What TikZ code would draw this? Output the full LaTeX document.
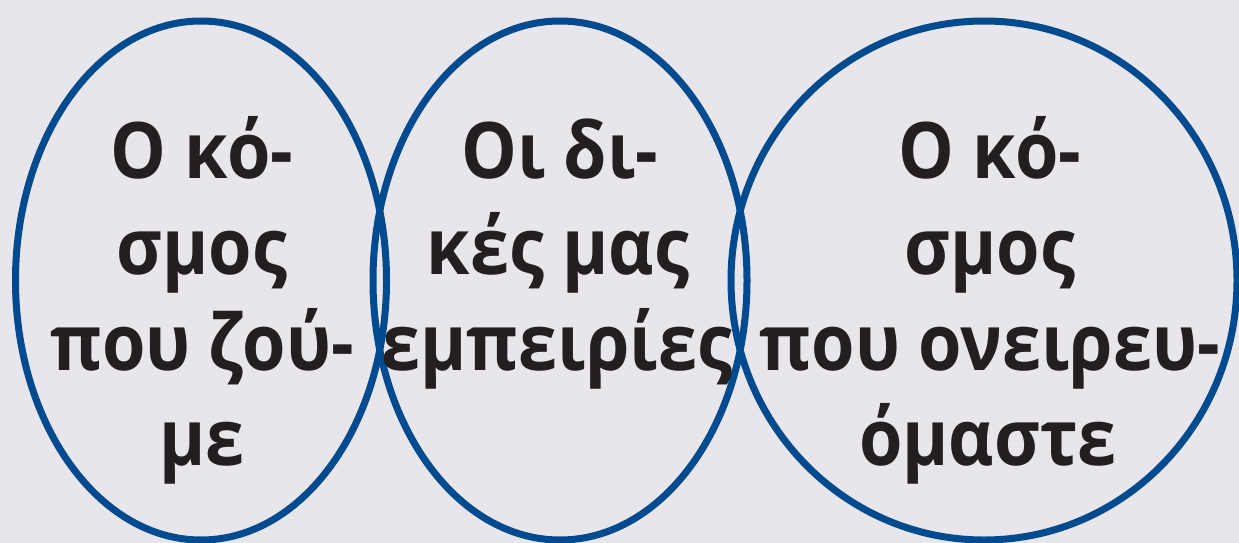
\documentclass[tikz,border=0pt]{standalone}
\usepackage{fontspec}
\setmainfont{Open Sans}[FakeStretch=0.9]
\usetikzlibrary{shapes.geometric}
\definecolor{bgcol}{HTML}{E8E6EB}
\definecolor{ringcol}{HTML}{004A8F}
\definecolor{txtcol}{HTML}{231F20}
\tikzset{
  ring/.style={draw=ringcol, line width=7pt, ellipse, inner sep=0pt, minimum height=519pt},
  word/.style={anchor=base, inner sep=0pt, text=txtcol, font=\bfseries\fontsize{78}{96}\selectfont}
}
\begin{document}
\begin{tikzpicture}[x=1pt,y=-1pt]
\fill[bgcol] (0,0) rectangle (1239,543);
\useasboundingbox (0,0) rectangle (1239,543);
\node[ring, minimum width=371pt] (e1) at (201,280.5) {};
\node[ring, minimum width=374pt] (e2) at (560,280.5) {};
\node[ring, minimum width=506pt] (e3) at (984,280.5) {};
% column 1
\node[word] (a1) at (202,178) {Ο κό-};
\node[word] (a2) at (202,274) {σμος};
\node[word] (a3) at (202,370) {που ζού-};
\node[word] (a4) at (202,465) {με};
% column 2
\node[word] (b1) at (560,178) {Οι δι-};
\node[word] (b2) at (558,274) {κές μας};
\node[word] (b3) at (557,370) {εμπειρίες};
% column 3
\node[word] (c1) at (990,178) {Ο κό-};
\node[word] (c2) at (990,274) {σμος};
\node[word] (c3) at (990,370) {που ονειρευ-};
\node[word] (c4) at (988,465) {όμαστε};
\end{tikzpicture}
\end{document}
